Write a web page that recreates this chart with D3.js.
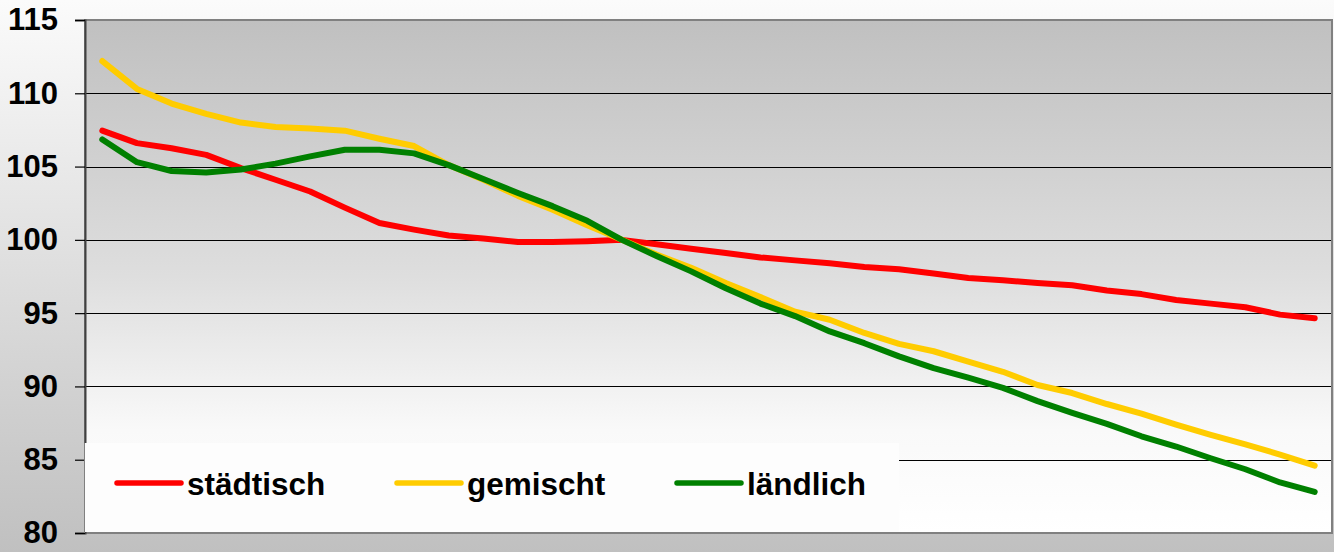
<!DOCTYPE html>
<html>
<head>
<meta charset="utf-8">
<script src="https://cdn.jsdelivr.net/npm/d3@7"></script>
<style>
  body { margin: 0; padding: 0; overflow: hidden; }
  svg { display: block; }
</style>
</head>
<body>
<svg id="chart" width="1334" height="552"></svg>
<script>
// Index values, 36 Zeitpunkte
var periods = d3.range(1, 37);
var yTicks = [80, 85, 90, 95, 100, 105, 110, 115];

var staedtisch = [107.45, 106.6, 106.25, 105.8, 104.9, 104.1, 103.3, 102.2, 101.15, 100.7,
                  100.3, 100.1, 99.85, 99.85, 99.9, 100.0, 99.7, 99.4, 99.1, 98.8,
                  98.6, 98.4, 98.15, 98.0, 97.7, 97.4, 97.25, 97.05, 96.9, 96.55,
                  96.3, 95.9, 95.65, 95.4, 94.9, 94.65];
var gemischt = [112.2, 110.3, 109.3, 108.6, 108.0, 107.7, 107.6, 107.45, 106.9, 106.4,
                105.1, 104.1, 103.0, 102.05, 101.0, 100.0, 99.0, 98.1, 97.05, 96.1,
                95.1, 94.55, 93.65, 92.9, 92.4, 91.7, 91.0, 90.1, 89.55, 88.8,
                88.15, 87.4, 86.7, 86.05, 85.35, 84.6];
var laendlich = [106.85, 105.3, 104.7, 104.6, 104.8, 105.2, 105.7, 106.15, 106.15, 105.9,
                 105.1, 104.15, 103.2, 102.3, 101.3, 100.0, 98.9, 97.85, 96.7, 95.65,
                 94.8, 93.75, 92.95, 92.05, 91.25, 90.6, 89.9, 89.0, 88.2, 87.45,
                 86.6, 85.9, 85.1, 84.35, 83.45, 82.8];

var seriesNames = ["städtisch", "gemischt", "ländlich"];
var seriesData = [staedtisch, gemischt, laendlich];
var seriesColors = ["#ff0000", "#ffcc00", "#008000"];

var svg = d3.select("#chart");
var svgWidth = +svg.attr("width");
var svgHeight = +svg.attr("height");

var plot = {l: 85, r: 1332, t: 20, b: 533};
var legendTop = 443, legendRight = 899;

var defs = svg.append("defs");
var outerGrad = defs.append("linearGradient")
	.attr("id", "outerGrad").attr("x1", 0).attr("y1", 0).attr("x2", 0).attr("y2", 1);
outerGrad.append("stop").attr("offset", "0%").attr("stop-color", "#fbfbfb");
outerGrad.append("stop").attr("offset", "100%").attr("stop-color", "#c0c0c0");

var innerGrad = defs.append("linearGradient")
	.attr("id", "innerGrad").attr("x1", 0).attr("y1", 0).attr("x2", 0).attr("y2", 1);
innerGrad.append("stop").attr("offset", "0%").attr("stop-color", "#c0c0c0");
innerGrad.append("stop").attr("offset", "50%").attr("stop-color", "#dedede");
innerGrad.append("stop").attr("offset", "80%").attr("stop-color", "#f9f9f9");
innerGrad.append("stop").attr("offset", "100%").attr("stop-color", "#ffffff");

// backgrounds
svg.append("rect")
	.attr("width", svgWidth).attr("height", svgHeight)
	.attr("fill", "url(#outerGrad)");

svg.append("rect")
	.attr("x", plot.l).attr("y", plot.t)
	.attr("width", plot.r - plot.l).attr("height", plot.b - plot.t)
	.attr("fill", "url(#innerGrad)");

var x = d3.scalePoint()
	.domain(periods)
	.range([plot.l, plot.r])
	.padding(0.5);

var y = d3.scaleLinear()
	.domain([80, 115])
	.range([plot.b, plot.t]);

// gridlines
svg.append("g")
	.selectAll("line")
	.data(yTicks.filter(function(d) { return d > 80 && d < 115; }))
	.enter()
	.append("line")
	.attr("x1", plot.l).attr("x2", plot.r)
	.attr("y1", function(d) { return Math.round(y(d)) + 0.5; })
	.attr("y2", function(d) { return Math.round(y(d)) + 0.5; })
	.attr("stroke", "#000")
	.attr("stroke-width", 1.2);

// plot border
svg.append("rect")
	.attr("x", plot.l).attr("y", plot.t)
	.attr("width", plot.r - plot.l).attr("height", plot.b - plot.t)
	.attr("fill", "none")
	.attr("stroke", "#808080")
	.attr("stroke-width", 2);

// y axis
var yAxis = svg.append("g")
	.attr("transform", "translate(" + plot.l + ",0)")
	.call(d3.axisLeft(y).tickValues(yTicks).tickSize(10).tickPadding(17));
yAxis.select(".domain").attr("stroke", "#404040").attr("stroke-width", 2);
yAxis.selectAll(".tick line").attr("stroke", "#000").attr("stroke-width", 1.2);
yAxis.selectAll("text")
	.attr("fill", "#000")
	.style("font-family", "Liberation Sans, Arial, sans-serif")
	.style("font-weight", "bold")
	.style("font-size", "31px");

// legend box (covers the lower part of the axis line)
svg.append("rect")
	.attr("x", plot.l).attr("y", legendTop)
	.attr("width", legendRight - plot.l).attr("height", plot.b - 1 - legendTop)
	.attr("fill", "#fdfdfd");
svg.append("line")
	.attr("x1", plot.l - 0.5).attr("x2", plot.l - 0.5)
	.attr("y1", legendTop).attr("y2", plot.b)
	.attr("stroke", "#808080")
	.attr("stroke-width", 1);

// lines
var line = d3.line()
	.x(function(d, i) { return x(periods[i]); })
	.y(function(d) { return y(d); });

svg.append("g")
	.selectAll("path")
	.data(seriesData)
	.enter()
	.append("path")
	.attr("d", line)
	.attr("fill", "none")
	.attr("stroke", function(d, i) { return seriesColors[i]; })
	.attr("stroke-width", 6)
	.attr("stroke-linejoin", "round")
	.attr("stroke-linecap", "round");

// legend
var legend = svg.append("g")
	.selectAll("g")
	.data(seriesNames)
	.enter()
	.append("g")
	.attr("transform", function(d, i) { return "translate(" + (117 + i * 280) + ",483)"; });

legend.append("line")
	.attr("x1", 0).attr("x2", 64)
	.attr("y1", 0).attr("y2", 0)
	.attr("stroke", function(d, i) { return seriesColors[i]; })
	.attr("stroke-width", 5.5)
	.attr("stroke-linecap", "round");

legend.append("text")
	.attr("x", 70)
	.attr("y", 12)
	.text(function(d) { return d; })
	.style("font-family", "Liberation Sans, Arial, sans-serif")
	.style("font-weight", "bold")
	.style("font-size", "31.5px")
	.attr("fill", "#000");
</script>
</body>
</html>
